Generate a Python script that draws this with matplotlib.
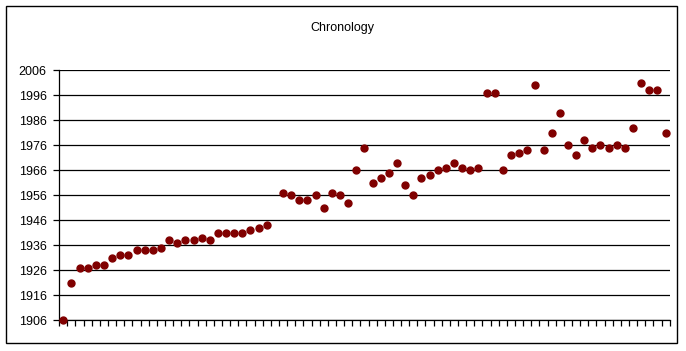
import numpy as np
import matplotlib
matplotlib.use("Agg")
import matplotlib.pyplot as plt
from matplotlib.patches import Rectangle

# year read for each entry (one entry has no value)
years = [1906, 1921, 1927, 1927, 1928, 1928, 1931, 1932, 1932, 1934,
         1934, 1934, 1935, 1938, 1937, 1938, 1938, 1939, 1938, 1941,
         1941, 1941, 1941, 1942, 1943, 1944, np.nan, 1957, 1956, 1954,
         1954, 1956, 1951, 1957, 1956, 1953, 1966, 1975, 1961, 1963,
         1965, 1969, 1960, 1956, 1963, 1964, 1966, 1967, 1969, 1967,
         1966, 1967, 1997, 1997, 1966, 1972, 1973, 1974, 2000, 1974,
         1981, 1989, 1976, 1972, 1978, 1975, 1976, 1975, 1976, 1975,
         1983, 2001, 1998, 1998, 1981]
y_ticks = list(range(1906, 2007, 10))

plt.rcParams['font.family'] = ['Liberation Sans', 'DejaVu Sans']
plt.rcParams['font.size'] = 9

fig = plt.figure(figsize=(6.86, 3.51), dpi=100)
fig.patches.append(Rectangle((0.0088, 0.022), 0.9787, 0.960, transform=fig.transFigure,
                             fill=False, edgecolor='black', linewidth=1.0))

ax = fig.add_axes([0.0863, 0.0875, 0.8899, 0.7122])
x = np.arange(len(years))
ax.plot(x, years, linestyle='none', marker='o', markersize=5,
        color='#800000', markeredgecolor='#800000', zorder=3, clip_on=False)

ax.set_xlim(-0.5, len(years) - 0.5)
ax.set_ylim(1906, 2006)
ax.set_yticks(y_ticks)
ax.set_xticks(np.arange(-0.5, len(years) + 0.5, 1))
ax.set_xticklabels([])
ax.grid(axis='y', color='black', linewidth=0.9)
ax.set_axisbelow(True)

for s in ['top', 'right']:
    ax.spines[s].set_visible(False)
ax.spines['left'].set_linewidth(0.9)
ax.spines['bottom'].set_linewidth(0.9)
ax.tick_params(axis='y', length=4, width=0.9, pad=5)
ax.tick_params(axis='x', length=4, width=0.9)

fig.text(0.4985, 0.92, 'Chronology', ha='center', va='center', fontsize=9)

fig.savefig('out.png', dpi=100)
